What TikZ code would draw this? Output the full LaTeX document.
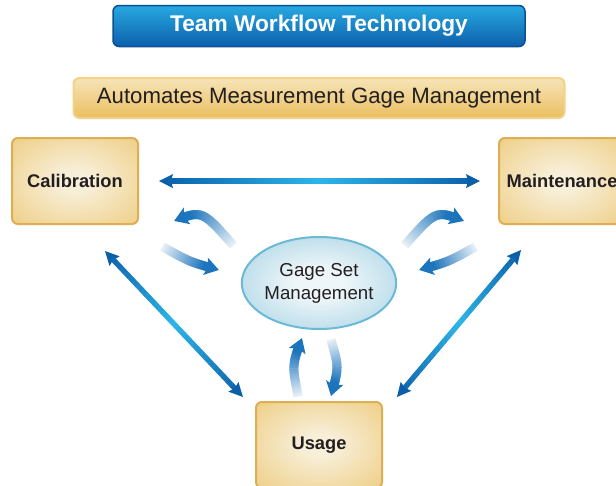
\documentclass[tikz,border=0pt]{standalone}
\usepackage{fontspec}
\setmainfont{Liberation Sans}
\usetikzlibrary{shapes.geometric,decorations.markings}

\definecolor{titletop}{HTML}{27A9E1}
\definecolor{titlebot}{HTML}{0D5FAB}
\definecolor{titleedge}{HTML}{0B4F95}
\definecolor{subtop}{HTML}{F6E4B8}
\definecolor{subbot}{HTML}{EBBF5F}
\definecolor{subedge}{HTML}{F3D189}
\definecolor{boxin}{HTML}{F8EFD9}
\definecolor{boxout}{HTML}{E9BF5E}
\definecolor{boxedge}{HTML}{E0AE52}
\definecolor{gsmin}{HTML}{EEF6F9}
\definecolor{gsmout}{HTML}{7DBFD9}
\definecolor{gsmedge}{HTML}{6CB9D6}
\definecolor{linkdark}{HTML}{0B5EA8}
\definecolor{linklight}{HTML}{2CB5E8}
\definecolor{swirlblue}{HTML}{1B74BC}
\definecolor{inkgray}{HTML}{231F20}

\pgfdeclareradialshading{boxglow}{\pgfpoint{0bp}{0bp}}{color(0bp)=(boxin); color(6bp)=(boxin); color(50bp)=(boxout)}
\pgfdeclareradialshading{gsmglow}{\pgfpoint{0bp}{0bp}}{color(0bp)=(gsmin); color(8bp)=(gsmin); color(50bp)=(gsmout)}

\tikzset{
  titlebox/.style={draw=titleedge, line width=1.5pt, rounded corners=6pt, top color=titletop, bottom color=titlebot, text=white, font=\bfseries\fontsize{22.7}{27}\selectfont, minimum width=412pt, minimum height=41pt},
  subbox/.style={draw=subedge, line width=2pt, rounded corners=6pt, top color=subtop, bottom color=subbot, text=inkgray, font=\fontsize{22.2}{26}\selectfont, minimum width=491pt, minimum height=40pt},
  stagebox/.style={draw=boxedge, line width=2pt, rounded corners=6pt, shading=boxglow, text=inkgray, font=\bfseries\fontsize{18.3}{22}\selectfont, minimum width=126pt, minimum height=86pt},
  gsmnode/.style={ellipse, draw=gsmedge, line width=2pt, shading=gsmglow, text=inkgray, font=\fontsize{18.7}{23}\selectfont, align=center, minimum width=154pt, minimum height=92pt, inner sep=0pt},
  twoway/.style={postaction={decorate, decoration={markings,
    mark=at position 0 with {\fill[linkdark] (0pt,0pt) -- (14pt,7pt) -- (12pt,0pt) -- (14pt,-7pt) -- cycle;},
    mark=between positions 10pt and -10pt step 0.8pt with {
      \pgfmathsetmacro\gf{\pgfkeysvalueof{/pgf/decoration/mark info/distance from start}/\pgfdecoratedpathlength}
      \pgfmathsetmacro\gmix{max(0,100-abs(200*\gf-100))}
      \fill[linklight!\gmix!linkdark] (-0.6pt,-2.6pt) rectangle (0.6pt,2.6pt);},
    mark=at position 1 with {\fill[linkdark] (0pt,0pt) -- (-14pt,7pt) -- (-12pt,0pt) -- (-14pt,-7pt) -- cycle;}}}},
  swirl/.style={postaction={decorate, decoration={markings,
    mark=between positions 0pt and -10pt step 0.6pt with {
      \pgfmathsetmacro\gf{\pgfkeysvalueof{/pgf/decoration/mark info/distance from start}/\pgfdecoratedpathlength}
      \pgfmathsetmacro\gmix{min(100,10+120*\gf)}
      \fill[swirlblue!\gmix!white] (-0.5pt,-4.5pt) rectangle (0.5pt,4.5pt);},
    mark=at position 1 with {\fill[swirlblue] (0pt,0pt) -- (-14pt,9pt) -- (-11pt,0pt) -- (-14pt,-9pt) -- cycle;}}}}
}

\begin{document}
\begin{tikzpicture}[x=1pt,y=-1pt]
\useasboundingbox (0,0) rectangle (616,485);
\clip (0,0) rectangle (616,485);

\node[titlebox] (title) at (319,26) {Team Workflow Technology};
\node[subbox] (sub) at (319,98) {Automates Measurement Gage Management};

\node[stagebox] (cal) at (75,181) {Calibration};
\node[stagebox] (mnt) at (562,181) {Maintenance};
\node[stagebox] (usage) at (319,445) {Usage};

\node[gsmnode] (gsm) at (319,283) {Gage Set\\Management};

% links between the three stages
\path[twoway] ([shift={(20,0)}]cal.east) -- ([shift={(-18,0)}]mnt.west);
\path[twoway] ([shift={(30,26)}]cal.south) -- ([shift={(-12,-4)}]usage.north west);
\path[twoway] ([shift={(-41,25)}]mnt.south) -- ([shift={(14,-4)}]usage.north east);

% exchange with the gage set
\path[swirl] (233,245) .. controls (202,210) .. (174,221);
\path[swirl] (163,247) .. controls (190,262) .. (219,270);
\path[swirl] (405,245) .. controls (436,210) .. (464,221);
\path[swirl] (475,247) .. controls (448,262) .. (419,270);
\path[swirl] (298,396) .. controls (292,365) .. (302,338);
\path[swirl] (331,340) .. controls (339,367) .. (331,396);

\end{tikzpicture}
\end{document}
